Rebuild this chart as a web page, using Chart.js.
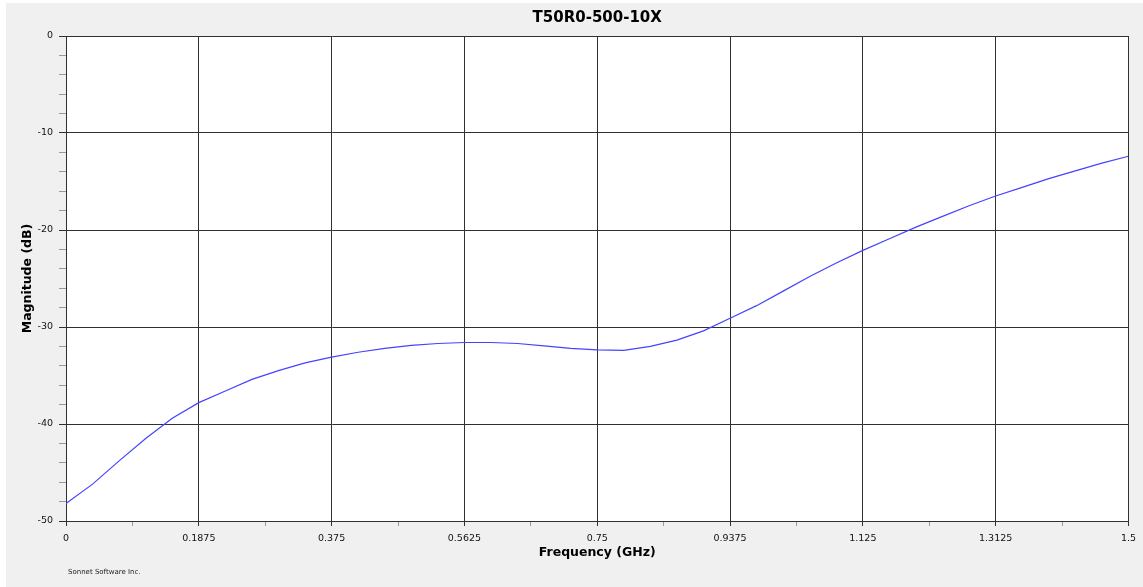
<!DOCTYPE html>
<html>
<head>
<meta charset="utf-8">
<title>T50R0-500-10X</title>
<script src="https://cdn.jsdelivr.net/npm/chart.js@4/dist/chart.umd.min.js"></script>
<style>
    html, body { margin: 0; padding: 0; background: #ffffff; }
    #wrap { position: absolute; left: 6px; top: 3px; width: 1137px; height: 584px; background: #f0f0f0; }
</style>
</head>
<body>
<div id="wrap"><canvas id="magChart"></canvas></div>
<script>
// Frequency samples (GHz) and magnitude (dB)
const freqGHz = [
    0, 0.0375, 0.075, 0.1125, 0.15, 0.1875, 0.225, 0.2625, 0.3, 0.3375,
    0.375, 0.4125, 0.45, 0.4875, 0.525, 0.5625, 0.6, 0.6375, 0.675, 0.7125,
    0.75, 0.7875, 0.825, 0.8625, 0.9, 0.9375, 0.975, 1.0125, 1.05, 1.0875,
    1.125, 1.1625, 1.2, 1.2375, 1.275, 1.3125, 1.35, 1.3875, 1.425, 1.4625, 1.5
];
const magnitudeDb = [
    -48.2, -46.2, -43.8, -41.5, -39.4, -37.8, -36.6, -35.4, -34.5, -33.7,
    -33.1, -32.6, -32.2, -31.9, -31.7, -31.6, -31.6, -31.7, -31.95, -32.2,
    -32.35, -32.4, -32.0, -31.35, -30.4, -29.1, -27.8, -26.3, -24.8, -23.4,
    -22.1, -20.9, -19.7, -18.6, -17.5, -16.5, -15.6, -14.7, -13.9, -13.1, -12.4
];
// Labelled ticks
const freqTicks = [0, 0.1875, 0.375, 0.5625, 0.75, 0.9375, 1.125, 1.3125, 1.5];
const magTicks = [0, -10, -20, -30, -40, -50];

const gridColor = '#303030';
const minorTickColor = '#9a9a9a';

function isMajorX(v) {
    return freqTicks.some(t => Math.abs(t - v) < 1e-6);
}
function isMajorY(v) {
    return magTicks.some(t => Math.abs(t - v) < 1e-6);
}

// white plot area + footer text
const plotDecor = {
    id: 'plotDecor',
    beforeDraw(chart) {
        const { ctx, chartArea } = chart;
        ctx.save();
        ctx.fillStyle = '#ffffff';
        ctx.fillRect(chartArea.left, chartArea.top, chartArea.right - chartArea.left, chartArea.bottom - chartArea.top);
        ctx.restore();
    },
    afterDraw(chart) {
        const { ctx, chartArea } = chart;
        ctx.save();
        ctx.font = '7px "DejaVu Sans"';
        ctx.fillStyle = '#222222';
        ctx.textBaseline = 'middle';
        ctx.fillText('Sonnet Software Inc.', chartArea.left + 2, chartArea.bottom + 51);
        ctx.restore();
    }
};

const magChart = new Chart(document.getElementById('magChart'), {
    type: 'line',
    data: {
        labels: freqGHz,
        datasets: [{
            label: 'Magnitude',
            data: freqGHz.map((f, i) => ({ x: f, y: magnitudeDb[i] })),
            borderColor: '#4444ff',
            borderWidth: 1.2,
            pointRadius: 0,
            tension: 0,
            fill: false
        }]
    },
    options: {
        responsive: true,
        maintainAspectRatio: false,
        animation: false,
        layout: { padding: { top: 0, right: 14, bottom: 0, left: 0 } },
        plugins: {
            legend: { display: false },
            tooltip: { enabled: false },
            title: {
                display: true,
                text: 'T50R0-500-10X',
                fullSize: false,
                color: '#000000',
                font: { family: 'DejaVu Sans', size: 15, weight: 'bold' },
                padding: { top: 6.5, bottom: 8.5 }
            }
        },
        scales: {
            x: {
                type: 'linear',
                min: 0,
                max: 1.5,
                afterFit(scale) { scale.height = 66; },
                ticks: {
                    stepSize: 0.09375,
                    autoSkip: false,
                    maxRotation: 0,
                    padding: 7,
                    color: '#111111',
                    font: { family: 'DejaVu Sans', size: 9.5 },
                    callback: v => isMajorX(v) ? String(freqTicks.find(t => Math.abs(t - v) < 1e-6)) : ''
                },
                grid: {
                    color: c => isMajorX(c.tick.value) ? gridColor : 'rgba(0,0,0,0)',
                    tickColor: c => isMajorX(c.tick.value) ? gridColor : minorTickColor,
                    tickLength: 5,
                    lineWidth: 1
                },
                border: { color: gridColor, width: 1 },
                title: {
                    display: true,
                    text: 'Frequency (GHz)',
                    color: '#000000',
                    font: { family: 'DejaVu Sans', size: 12.5, weight: 'bold' },
                    padding: { top: 0, bottom: 26.5 }
                }
            },
            y: {
                min: -50,
                max: 0,
                afterFit(scale) { scale.width = 60; },
                ticks: {
                    stepSize: 2,
                    autoSkip: false,
                    padding: 6,
                    color: '#111111',
                    font: { family: 'DejaVu Sans', size: 9.5 },
                    callback: v => isMajorY(v) ? String(Math.round(v)) : ''
                },
                grid: {
                    color: c => isMajorY(c.tick.value) ? gridColor : 'rgba(0,0,0,0)',
                    tickColor: c => isMajorY(c.tick.value) ? gridColor : minorTickColor,
                    tickLength: 7,
                    lineWidth: 1
                },
                border: { color: gridColor, width: 1 },
                title: {
                    display: true,
                    text: 'Magnitude (dB)',
                    color: '#000000',
                    font: { family: 'DejaVu Sans', size: 12.5, weight: 'bold' },
                    padding: { top: 14.5, bottom: 0 }
                }
            }
        }
    },
    plugins: [plotDecor]
});
</script>
</body>
</html>
